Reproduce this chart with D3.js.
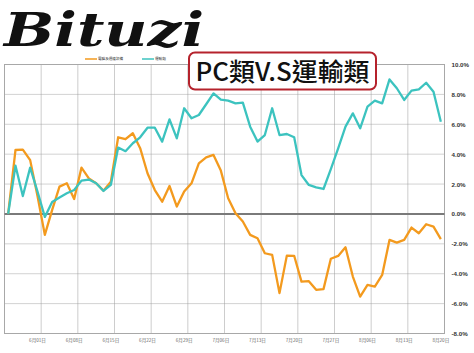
<!DOCTYPE html>
<html>
<head>
<meta charset="utf-8">
<script src="https://cdn.jsdelivr.net/npm/d3@7"></script>
<style>
  body { margin: 0; background: #fff; }
  svg { display: block; }
</style>
</head>
<body>
<svg id="app" width="474" height="353"></svg>
<script>
// 數據：2012/05/28 ~ 2012/08/20 累計漲跌幅 (%)
const pcValues = [
  0, 4.28, 4.3, 3.6, 1.2, -1.4, 0.27, 1.83, 2.05, 1.0,
  3.1, 2.38, 2.05, 1.56, 2.16, 5.13, 5.0, 5.4, 4.4, 2.72,
  1.6, 0.82, 1.87, 0.49, 1.5, 2.05, 3.39, 3.79, 3.95, 2.9,
  1.05, 0.05, -0.51, -1.4, -1.63, -2.63, -2.74, -5.3, -2.79, -2.8,
  -4.53, -4.5, -5.08, -5.03, -3.0, -2.81, -2.23, -4.19, -5.53, -4.75,
  -4.86, -4.08, -1.74, -1.92, -1.74, -0.91, -1.29, -0.69, -0.85, -1.69
];
const transportValues = [
  0, 3.23, 1.2, 3.1, 1.5, -0.2, 0.8, 1.1, 1.38, 1.6,
  2.23, 2.3, 2.05, 1.54, 1.94, 4.44, 4.2, 4.73, 5.13, 5.77,
  5.77, 4.84, 6.33, 5.06, 7.07, 6.4, 6.62, 7.34, 8.07, 7.65,
  7.58, 7.4, 7.45, 5.84, 4.84, 5.28, 7.07, 5.28, 5.35, 5.13,
  2.6, 1.94, 1.78, 1.67, 3.0, 4.39, 5.84, 6.73, 5.73, 7.18,
  7.58, 7.4, 9.0, 8.41, 7.63, 8.25, 8.34, 8.78, 8.18, 6.17
];
const seriesNames = ["電腦及週邊設備", "運輸類"];
const tickLabels = ["6月01日", "6月08日", "6月15日", "6月22日", "6月29日", "7月06日",
  "7月13日", "7月20日", "7月27日", "8月06日", "8月13日", "8月20日"];
const yTicks = [-8, -6, -4, -2, 0, 2, 4, 6, 8, 10];

const PLOT = { LEFT: 4.5, RIGHT: 444.5, TOP: 64.5, BOTTOM: 333.5 };
const COLORS = ["#f39a1e", "#3cc3bf"];

var svg = d3.select("#app");

// 比例尺
const xScale = d3.scaleBand()
  .domain(d3.range(pcValues.length))
  .range([PLOT.LEFT, PLOT.RIGHT]);
const yScale = d3.scaleLinear()
  .domain([d3.min(yTicks), d3.max(yTicks)])
  .range([PLOT.BOTTOM, PLOT.TOP]);
const cx = i => xScale(i) + xScale.bandwidth() / 2;

// 水平格線
svg.append("g")
  .selectAll("line")
  .data(yTicks)
  .enter()
  .append("line")
  .attr("x1", PLOT.LEFT).attr("x2", PLOT.RIGHT)
  .attr("y1", d => yScale(d)).attr("y2", d => yScale(d))
  .attr("stroke", "#d2d2d2")
  .attr("stroke-width", 1);

// 垂直虛線 (每5個交易日)
svg.append("g")
  .selectAll("line")
  .data(d3.range(5, pcValues.length, 5))
  .enter()
  .append("line")
  .attr("x1", d => xScale(d)).attr("x2", d => xScale(d))
  .attr("y1", PLOT.TOP).attr("y2", PLOT.BOTTOM)
  .attr("stroke", "#9a9a9a")
  .attr("stroke-width", 1)
  .attr("stroke-dasharray", "1,1");

// 外框
svg.append("rect")
  .attr("x", PLOT.LEFT).attr("y", PLOT.TOP)
  .attr("width", PLOT.RIGHT - PLOT.LEFT)
  .attr("height", PLOT.BOTTOM - PLOT.TOP)
  .attr("fill", "none")
  .attr("stroke", "#a8a8a8");

// 0軸
svg.append("line")
  .attr("x1", PLOT.LEFT).attr("x2", PLOT.RIGHT)
  .attr("y1", yScale(0)).attr("y2", yScale(0))
  .attr("stroke", "#7a7a7a")
  .attr("stroke-width", 2);

// 右側Y軸
var axisRight = d3.axisRight(yScale)
  .tickValues(yTicks)
  .tickSize(0)
  .tickPadding(7)
  .tickFormat(d => d.toFixed(1) + "%");
svg.append("g")
  .attr("transform", `translate(${PLOT.RIGHT},0)`)
  .call(axisRight)
  .call(g => g.select(".domain").remove())
  .selectAll("text")
  .attr("font-family", "Arial, 'Liberation Sans', sans-serif")
  .attr("font-size", 6.2)
  .attr("font-weight", "bold")
  .attr("fill", "#333");

// 下方日期
var axisBottom = d3.axisBottom(xScale)
  .tickValues(tickLabels.map((d, k) => 4 + k * 5))
  .tickSize(0)
  .tickPadding(5)
  .tickFormat((d, k) => tickLabels[k]);
svg.append("g")
  .attr("transform", `translate(0,${PLOT.BOTTOM})`)
  .call(axisBottom)
  .call(g => g.select(".domain").remove())
  .selectAll("text")
  .attr("font-family", "'Noto Sans CJK TC', sans-serif")
  .attr("font-size", 4.6)
  .attr("fill", "#666");

// 折線
const line = d3.line()
  .x((d, i) => cx(i))
  .y(d => yScale(d));
svg.append("g")
  .selectAll("path")
  .data([pcValues, transportValues])
  .enter()
  .append("path")
  .attr("d", d => line(d))
  .attr("fill", "none")
  .attr("stroke", (d, i) => COLORS[i])
  .attr("stroke-width", 2.3)
  .attr("stroke-linejoin", "round");

// 圖例
const legendX = [85, 142];
var legend = svg.append("g")
  .selectAll("g")
  .data(seriesNames)
  .enter()
  .append("g")
  .attr("transform", (d, i) => `translate(${legendX[i]},59)`);
legend.append("line")
  .attr("x1", 0).attr("x2", 12)
  .attr("stroke", (d, i) => COLORS[i])
  .attr("stroke-width", 1.5);
legend.append("text")
  .attr("x", 13)
  .attr("y", 1.3)
  .attr("font-family", "'Noto Sans CJK TC', sans-serif")
  .attr("font-size", 3.6)
  .attr("fill", "#333")
  .text(d => d);

// 標題框
svg.append("rect")
  .attr("x", 189).attr("y", 52.5)
  .attr("width", 187).attr("height", 37)
  .attr("rx", 6)
  .attr("fill", "#fff")
  .attr("stroke", "#b5222c")
  .attr("stroke-width", 2);
svg.append("text")
  .attr("x", 282.5).attr("y", 80.5)
  .attr("text-anchor", "middle")
  .attr("textLength", 174)
  .attr("lengthAdjust", "spacingAndGlyphs")
  .attr("font-family", "'Noto Sans CJK TC', sans-serif")
  .attr("font-size", 25)
  .attr("font-weight", 500)
  .attr("fill", "#111")
  .text("PC類V.S運輸類");

// Logo
svg.append("text")
  .attr("x", 4).attr("y", 46)
  .attr("textLength", 200)
  .attr("lengthAdjust", "spacingAndGlyphs")
  .attr("font-family", "'DejaVu Serif', serif")
  .attr("font-style", "italic")
  .attr("font-weight", "bold")
  .attr("font-size", 46)
  .attr("fill", "#111")
  .text("Bituzi");
</script>
</body>
</html>
